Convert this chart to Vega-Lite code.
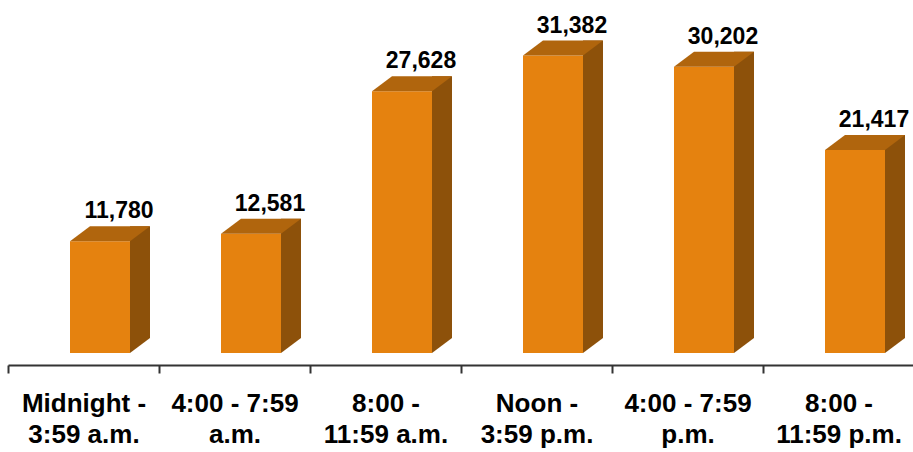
{
  "$schema": "https://vega.github.io/schema/vega-lite/v6.json",
  "width": 906,
  "height": 353,
  "autosize": "none",
  "padding": {"left": 8, "top": 0, "right": 0, "bottom": 99},
  "background": "white",
  "config": {"view": {"stroke": null}},
  "data": {"values": [
    {"cat": "Midnight -|3:59 a.m.", "v": 11780},
    {"cat": "4:00 - 7:59|a.m.", "v": 12581},
    {"cat": "8:00 -|11:59 a.m.", "v": 27628},
    {"cat": "Noon -|3:59 p.m.", "v": 31382},
    {"cat": "4:00 - 7:59|p.m.", "v": 30202},
    {"cat": "8:00 -|11:59 p.m.", "v": 21417}
  ]},
  "encoding": {
    "x": {"field": "cat", "type": "nominal", "sort": null,
      "scale": {"paddingInner": 0, "paddingOuter": 0},
      "axis": {"title": null, "labelAngle": 0, "offset": 12,
        "labelExpr": "split(datum.label, '|')",
        "labelFont": "Liberation Sans", "labelFontWeight": "bold", "labelFontSize": 26,
        "labelColor": "#000000", "labelLineHeight": 31, "labelPadding": 17,
        "labelLimit": 0, "labelOverlap": false, "labelBound": false,
        "domainColor": "#333333", "domainWidth": 2,
        "tickColor": "#333333", "tickWidth": 2, "tickSize": 8, "tickBand": "extent"}}
  },
  "layer": [
    {"mark": {"type": "bar", "width": 20, "xOffset": 56.5, "yOffset": -15, "color": "#8D510A"},
     "encoding": {"y": {"field": "v", "type": "quantitative", "scale": {"domain": [0, 37250], "nice": false}, "axis": null}, "y2": {"datum": 0}}},
    {"mark": {"type": "bar", "width": 60, "xOffset": 16.5, "color": "#E5820F"},
     "encoding": {"y": {"field": "v", "type": "quantitative"}, "y2": {"datum": 0}}},
    {"mark": {"type": "point", "shape": "M-1,0.1875L0.5,0.1875L1,-0.1875L-0.5,-0.1875Z", "size": 6400, "filled": true, "opacity": 1, "strokeWidth": 0, "color": "#B0650D", "xOffset": 26.5, "yOffset": -7.5},
     "encoding": {"y": {"field": "v", "type": "quantitative"}}},
    {"mark": {"type": "point", "shape": "M-1,0.75L1,0.75L1,-0.75Z", "size": 400, "filled": true, "opacity": 1, "strokeWidth": 0, "color": "#FFFFFF", "xOffset": 56.5, "yOffset": -7.5},
     "encoding": {"y": {"datum": 0, "type": "quantitative"}}},
    {"mark": {"type": "text", "font": "Liberation Sans", "fontWeight": "bold", "fontSize": 23, "color": "#000000", "align": "center", "baseline": "alphabetic", "xOffset": 35.5, "yOffset": -23},
     "encoding": {"y": {"field": "v", "type": "quantitative"}, "text": {"field": "v", "type": "quantitative", "format": ","}}}
  ]
}
